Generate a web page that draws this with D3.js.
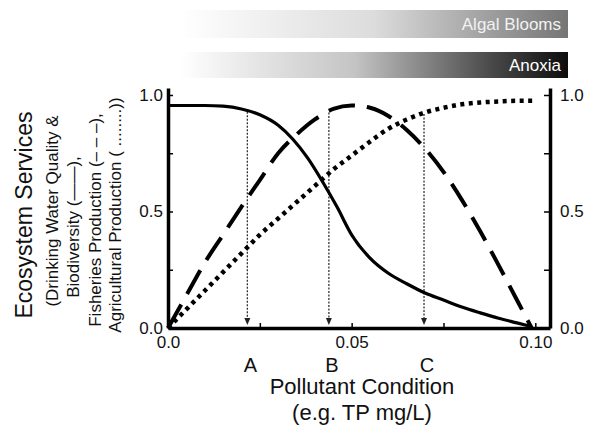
<!DOCTYPE html>
<html><head><meta charset="utf-8">
<script src="https://cdn.jsdelivr.net/npm/d3@7"></script>
<style>
body{margin:0;background:#fff}
svg{display:block}
text{font-family:"Liberation Sans",Arial,Helvetica,sans-serif}
</style>
</head><body>
<svg id="c" width="595" height="428"></svg>
<script>
// ---- data ----
const waterX = [0, 0.01, 0.015, 0.02, 0.025, 0.03, 0.034, 0.038, 0.042, 0.046, 0.05, 0.055, 0.06, 0.065, 0.07, 0.075, 0.08, 0.085, 0.09, 0.095, 0.099];
const waterY = [0.955, 0.955, 0.952, 0.94, 0.915, 0.87, 0.81, 0.73, 0.63, 0.52, 0.40, 0.30, 0.235, 0.19, 0.15, 0.12, 0.09, 0.065, 0.042, 0.022, 0.006];
const fishX = [0, 0.005, 0.01, 0.015, 0.02, 0.025, 0.03, 0.035, 0.04, 0.045, 0.05, 0.055, 0.06, 0.065, 0.07, 0.075, 0.08, 0.085, 0.09, 0.095, 0.099];
const fishY = [0, 0.14, 0.28, 0.40, 0.52, 0.635, 0.75, 0.83, 0.895, 0.94, 0.955, 0.945, 0.91, 0.85, 0.77, 0.67, 0.55, 0.415, 0.27, 0.12, 0.0];
const agriX = [0, 0.005, 0.01, 0.015, 0.02, 0.025, 0.03, 0.035, 0.04, 0.045, 0.05, 0.055, 0.06, 0.065, 0.07, 0.075, 0.08, 0.085, 0.09, 0.095, 0.10];
const agriY = [0, 0.08, 0.16, 0.24, 0.32, 0.40, 0.47, 0.54, 0.61, 0.68, 0.74, 0.80, 0.855, 0.895, 0.925, 0.945, 0.96, 0.968, 0.972, 0.975, 0.975];
const markerLabels = ["A", "B", "C"];
const markerX = [0.0216, 0.0438, 0.0697];
const xTicks = [0.025, 0.05, 0.075, 0.10];
const xTickLabels = {0: "0.0", 0.05: "0.05", 0.1: "0.10"};
const yTicks = [0, 0.25, 0.5, 0.75, 1.0];
const yTickLabels = {0: "0.0", 0.5: "0.5", 1: "1.0"};
const barLabels = ["Algal Blooms", "Anoxia"];
const yTitle = "Ecosystem Services";
const ySubTitles = ["(Drinking Water Quality &", "Biodiversity (\u2014\u2014),", "Fisheries Production (\u2013 \u2013 \u2013),", "Agricultural Production ( ........))"];
const xTitle = ["Pollutant Condition", "(e.g. TP mg/L)"];

// ---- scales ----
const svg = d3.select("#c");
const x = d3.scaleLinear().domain([0, 0.104]).range([168, 550]);
const y = d3.scaleLinear().domain([0, 1.03]).range([328, 88]);

// ---- gradient bars ----
const defs = svg.append("defs");
const g1 = defs.append("linearGradient").attr("id", "gAlgal");
g1.append("stop").attr("offset", "0").attr("stop-color", "#ffffff");
g1.append("stop").attr("offset", "0.5").attr("stop-color", "#dcdcdc");
g1.append("stop").attr("offset", "1").attr("stop-color", "#757575");
const g2 = defs.append("linearGradient").attr("id", "gAnox");
g2.append("stop").attr("offset", "0").attr("stop-color", "#ffffff");
g2.append("stop").attr("offset", "0.45").attr("stop-color", "#c4c4c4");
g2.append("stop").attr("offset", "0.8").attr("stop-color", "#4a4a4a");
g2.append("stop").attr("offset", "1").attr("stop-color", "#0d0d0d");
const bars = [{id: "gAlgal", y0: 10, h: 28, label: barLabels[0], tc: "#f2f2f2"},
              {id: "gAnox", y0: 52, h: 26, label: barLabels[1], tc: "#ffffff"}];
bars.forEach(b => {
  svg.append("rect").attr("x", 180).attr("y", b.y0).attr("width", 388).attr("height", b.h)
    .attr("fill", `url(#${b.id})`);
  svg.append("text").attr("x", 561).attr("y", b.y0 + b.h / 2 + 6).attr("text-anchor", "end")
    .attr("font-size", 17).attr("fill", b.tc).text(b.label);
});

// ---- axes ----
function styleAxis(g, fs) {
  g.select(".domain").attr("stroke", "#000").attr("stroke-width", 3.5);
  g.selectAll(".tick line").attr("stroke", "#000").attr("stroke-width", 1.5);
  g.selectAll(".tick text").attr("font-size", fs).attr("fill", "#111")
    .attr("font-family", '"Liberation Sans",Arial,sans-serif');
  g.attr("font-family", null);
}
const fmtY = d => yTickLabels[d] !== undefined ? yTickLabels[d] : "";
const gl = svg.append("g").attr("transform", `translate(${x(0)},0)`)
  .call(d3.axisLeft(y).tickValues(yTicks).tickFormat(fmtY).tickSizeInner(-5).tickSizeOuter(0).tickPadding(5));
styleAxis(gl, 17);
const gr = svg.append("g").attr("transform", `translate(${x.range()[1]},0)`)
  .call(d3.axisRight(y).tickValues(yTicks).tickFormat(fmtY).tickSizeInner(-6).tickSizeOuter(0).tickPadding(10));
styleAxis(gr, 17);
const gb = svg.append("g").attr("transform", `translate(0,${y(0)})`)
  .call(d3.axisBottom(x).tickValues([0, ...xTicks]).tickFormat(d => xTickLabels[d] !== undefined ? xTickLabels[d] : "")
    .tickSizeInner(-5).tickSizeOuter(0).tickPadding(8));
styleAxis(gb, 17);
gb.selectAll(".tick text").attr("dy", "0.71em");

// ---- marker lines (A, B, C) ----
function interp(xa, ya, v) {
  for (let i = 0; i < xa.length - 1; i++) {
    if (v >= xa[i] && v <= xa[i + 1]) {
      const t = (v - xa[i]) / (xa[i + 1] - xa[i]);
      return ya[i] + t * (ya[i + 1] - ya[i]);
    }
  }
  return 0;
}
markerX.forEach((mx, i) => {
  const top = Math.max(interp(waterX, waterY, mx), interp(fishX, fishY, mx), interp(agriX, agriY, mx));
  const px = x(mx);
  const tipY = y(0) - 3;
  svg.append("line").attr("x1", px).attr("x2", px).attr("y1", y(top) + 1).attr("y2", tipY - 5)
    .attr("stroke", "#333").attr("stroke-width", 1.3).attr("stroke-dasharray", "2,1.5");
  svg.append("path").attr("d", `M${px - 3},${tipY - 7} L${px + 3},${tipY - 7} L${px},${tipY} Z`).attr("fill", "#222");
  svg.append("text").attr("x", px + 3).attr("y", 372).attr("text-anchor", "middle")
    .attr("font-size", 20).attr("fill", "#111").text(markerLabels[i]);
});

// ---- curves ----
const line = d3.line().x(d => x(d[0])).y(d => y(d[1])).curve(d3.curveMonotoneX);
svg.append("path").datum(agriX.map((v, i) => [v, agriY[i]])).attr("d", line)
  .attr("fill", "none").attr("stroke", "#000").attr("stroke-width", 4.5).attr("stroke-dasharray", "4,4.5");
svg.append("path").datum(fishX.map((v, i) => [v, fishY[i]])).attr("d", line)
  .attr("fill", "none").attr("stroke", "#000").attr("stroke-width", 4).attr("stroke-dasharray", "27,12");
svg.append("path").datum(waterX.map((v, i) => [v, waterY[i]])).attr("d", line)
  .attr("fill", "none").attr("stroke", "#000").attr("stroke-width", 3.2);

// ---- titles ----
svg.append("text").attr("transform", "translate(32,215) rotate(-90)").attr("text-anchor", "middle")
  .attr("font-size", 23).attr("fill", "#111").text(yTitle);
const subX = [58, 79, 101, 121];
const subY = [211, 227, 220, 215];
ySubTitles.forEach((t, i) => {
  svg.append("text").attr("transform", `translate(${subX[i]},${subY[i]}) rotate(-90)`).attr("text-anchor", "middle")
    .attr("font-size", 17).attr("fill", "#111").text(t);
});
svg.append("text").attr("x", 362).attr("y", 394).attr("text-anchor", "middle")
  .attr("font-size", 22).attr("fill", "#111").text(xTitle[0]);
svg.append("text").attr("x", 362).attr("y", 420).attr("text-anchor", "middle")
  .attr("font-size", 22).attr("fill", "#111").text(xTitle[1]);
</script>
</body></html>
